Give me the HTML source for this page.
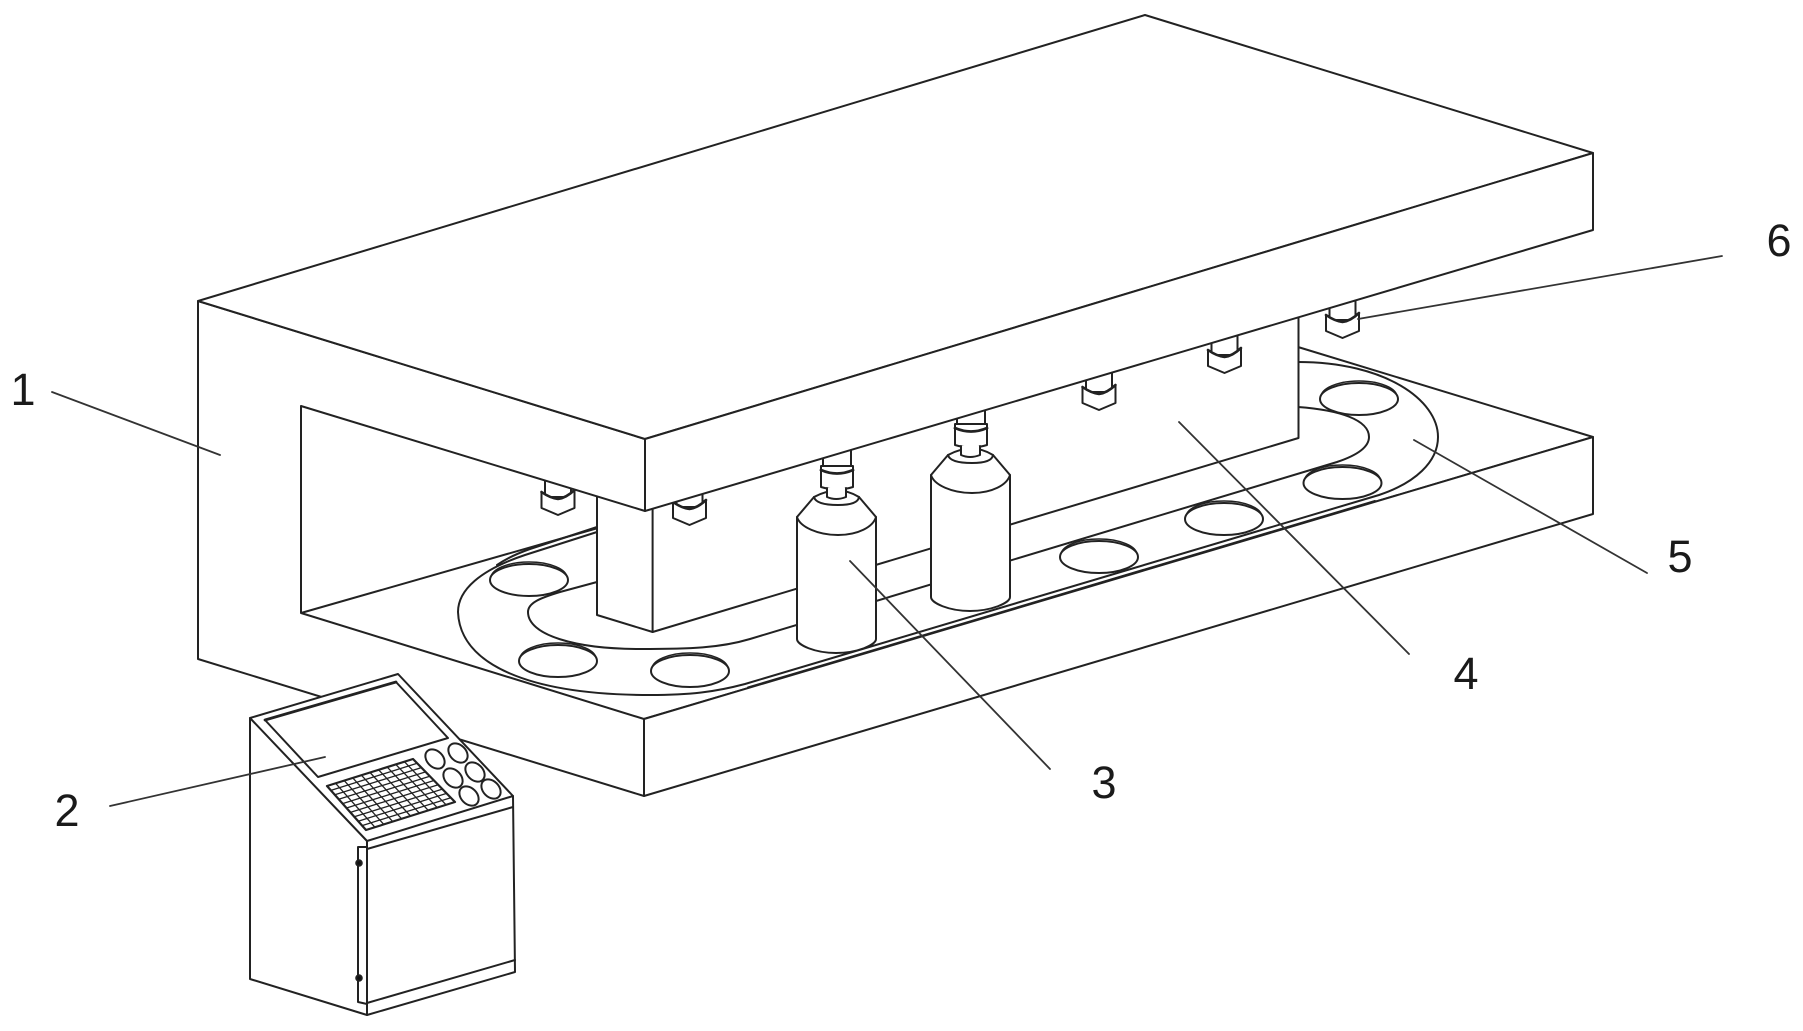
<!DOCTYPE html>
<html><head><meta charset="utf-8"><style>
html,body{margin:0;padding:0;background:#fff}
svg{display:block}
text{font-family:"Liberation Sans",Arial,sans-serif;font-size:45px;fill:#1a1a1a;text-anchor:middle}
</style></head><body>
<svg width="1803" height="1031" viewBox="0 0 1803 1031" xmlns="http://www.w3.org/2000/svg">
<defs>
<g id="noz">
<path d="M-13,-40 V3 H13 V-40" fill="#fff"/>
<path d="M-16.500,-2 Q-8,4 0,5 Q8,4 16.500,-4 V14 L0,21 L-16.500,14 Z" fill="#fff"/>
<path d="M-16.500,-2 Q-8,4 0,5 Q8,4 16.500,-4" fill="none" stroke-width="2.600"/>
</g>
<g id="bot">
<path d="M823,440 V468 H851 V440" fill="#fff"/>
<path d="M821,466 H853 V487 Q837,492 821,487 Z" fill="#fff"/>
<path d="M821,470 Q837,477 853,470" fill="none" stroke-width="2.800"/>
<path d="M797,517 L814,497 Q838,484 859,497 L876,517 V639 C876,645 857,653 836,653 C815,653 797,645 797,639 Z" fill="#fff"/>
<path d="M797,517 C800,527 818,535 838,535 C858,535 873,527 876,517 M814,497 Q816,505 838,505 Q858,505 859,497" fill="none"/>
<path d="M827,488 V497 Q836,501 846,497 V488" fill="#fff"/>
</g>
</defs>
<rect width="1803" height="1031" fill="#fff"/>
<g stroke="#222" stroke-width="2" fill="none" stroke-linejoin="round" stroke-linecap="round">

<!-- base back edges -->
<path d="M301,613 L598,528 M1298,347 L1593,437 L644,719"/>

<!-- belt -->
<path d="M597,532 L525,555 C480,570 458,590 458,612 C460,665 530,695 650,695 C690,695 715,692 745,684 L1379,495 C1415,483 1438,462 1438,437 C1438,400 1385,362 1298,362"/>
<path d="M597,527 L530,549 Q510,556 497,565 M748,687.500 L1375,501"/>
<path d="M597,582 L560,592 C540,598 528,603 528,612 C528,635 575,649 640,649 C690,649 720,648 750,639 L1337,462 C1358,455 1369,447 1369,437 C1369,420 1340,410 1298,407"/>

<!-- holes -->
<g stroke-width="1.500">
<ellipse cx="529" cy="578" rx="38" ry="16"/>
<ellipse cx="558" cy="659" rx="38" ry="16"/>
<ellipse cx="690" cy="669" rx="38" ry="16"/>
<ellipse cx="1359" cy="397" rx="38" ry="16"/>
<ellipse cx="1342.500" cy="481" rx="38" ry="16"/>
<ellipse cx="1224" cy="517" rx="38" ry="16"/>
<ellipse cx="1099" cy="555" rx="38" ry="16"/>
</g>
<g fill="#fff">
<ellipse cx="529" cy="580" rx="39" ry="16"/>
<ellipse cx="558" cy="661" rx="39" ry="16"/>
<ellipse cx="690" cy="671" rx="39" ry="16"/>
<ellipse cx="1359" cy="399" rx="39" ry="16"/>
<ellipse cx="1342.500" cy="483" rx="39" ry="16"/>
<ellipse cx="1224" cy="519" rx="39" ry="16"/>
<ellipse cx="1099" cy="557" rx="39" ry="16"/>
</g>

<!-- nozzle behind block -->
<use href="#noz" x="558" y="494"/>

<!-- block -->
<path d="M597,480 V615 L652.600,632 L1298.500,438 V300 Z" fill="#fff"/>
<path d="M652.600,505 V632"/>

<!-- nozzles -->
<use href="#noz" x="689.500" y="504"/>
<use href="#noz" x="1099" y="389"/>
<use href="#noz" x="1224.500" y="352"/>
<use href="#noz" x="1342.500" y="317"/>

<!-- bottles -->
<use href="#bot"/>
<use href="#bot" x="134" y="-42"/>

<!-- main frame -->
<path d="M198,301 L645,439 V511 L301,406 V613 L644,719 V796 L198,659 Z" fill="#fff"/>
<path d="M198,301 L1145,15 L1593,153 L645,439 Z" fill="#fff"/>
<path d="M645,439 L1593,153 V230 L645,511 Z" fill="#fff"/>
<path d="M644,719 L1593,437 V514 L644,796 Z" fill="#fff"/>

<!-- leaders -->
<g stroke="#333" stroke-width="1.800">
<path d="M52,392 L220,455"/>
<path d="M1050,769 L850,561"/>
<path d="M1409,654 L1179,422"/>
<path d="M1647,573 L1414,440"/>
<path d="M1722,256 L1358,319"/>
</g>

<!-- control box -->
<path d="M250,718 L398,674 L513,796 L515,972 L367,1015 L250,979 Z" fill="#fff"/>
<path d="M250,718 L367,841 L513,796 M367,841 V1015 M367,849 L513,807 M367,1003 L515,960"/>
<path d="M367,847 H358 V1002 L367,1004"/>
<path d="M265,720 L396,682 L448,738 L318,777 Z"/>
<path d="M265,720 L396,682" stroke-width="2.800"/>
<circle cx="359" cy="863" r="2.800" fill="#111"/>
<circle cx="359" cy="978" r="2.800" fill="#111"/>
<path d="M327,786 L413,759 L455,802 L366,830 Z" stroke-width="2.200"/>
<g stroke-width="1.300">
<path d="M335.600,783.300 L374.900,827.200 M344.200,780.600 L383.800,824.400 M352.800,777.900 L392.700,821.600 M361.400,775.200 L401.600,818.800 M370,772.500 L410.500,816 M378.600,769.800 L419.400,813.200 M387.200,767.100 L428.300,810.400 M395.800,764.400 L437.200,807.600 M404.400,761.700 L446.100,804.800"/>
<path d="M330.900,790.400 L417.200,763.300 M334.800,794.800 L421.400,767.600 M338.700,799.200 L425.600,771.900 M342.600,803.600 L429.800,776.200 M346.500,808 L434,780.500 M350.400,812.400 L438.200,784.800 M354.300,816.800 L442.400,789.100 M358.200,821.200 L446.600,793.400 M362.100,825.600 L450.800,797.700"/>
</g>
<ellipse cx="435" cy="759" rx="11" ry="8" transform="rotate(45 435 759)"/>
<ellipse cx="458" cy="753" rx="11" ry="8" transform="rotate(45 458 753)"/>
<ellipse cx="453" cy="778" rx="11" ry="8" transform="rotate(45 453 778)"/>
<ellipse cx="475" cy="772" rx="11" ry="8" transform="rotate(45 475 772)"/>
<ellipse cx="469" cy="796" rx="11" ry="8" transform="rotate(45 469 796)"/>
<ellipse cx="491" cy="789" rx="11" ry="8" transform="rotate(45 491 789)"/>
<path d="M110,806 L325,757" stroke="#333" stroke-width="1.800"/>
</g>

<text x="23" y="405">1</text>
<text x="67" y="826">2</text>
<text x="1104" y="798">3</text>
<text x="1466" y="689">4</text>
<text x="1680" y="572">5</text>
<text x="1779" y="256">6</text>
</svg>
</body></html>
